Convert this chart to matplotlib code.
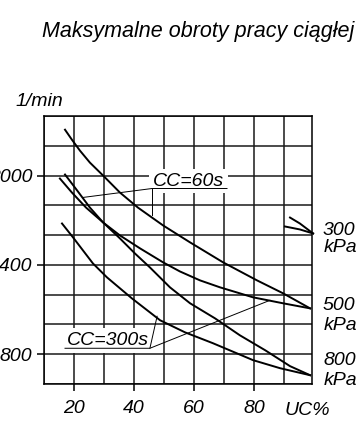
import matplotlib.pyplot as plt
from matplotlib.ticker import MultipleLocator

plt.rcParams['font.family'] = ['Liberation Sans', 'DejaVu Sans']
plt.rcParams['font.style'] = 'italic'

# UC% (x) vs max speed 1/min (y)
uc_500_60 = [17, 19.3, 22, 25.3, 29.7, 35.3, 41.3, 49.7, 58.7, 69.7, 81, 89.7, 98.7]
n_500_60 = [2308, 2241, 2167, 2087, 2000, 1886, 1785, 1665, 1551, 1417, 1296, 1209, 1108]

uc_500_300 = [15.3, 19.3, 24, 29.7, 35.3, 42, 49.7, 55.3, 62, 68.7, 79.7, 89.7, 98.7]
n_500_300 = [1980, 1886, 1785, 1685, 1598, 1511, 1417, 1356, 1296, 1249, 1182, 1142, 1108]

uc_800_60 = [17, 21.3, 25.3, 29.7, 35.3, 40.3, 45.3, 52, 58.7, 67, 75.3, 83.7, 92, 98.7]
n_800_60 = [2007, 1893, 1785, 1685, 1578, 1477, 1383, 1249, 1142, 1041, 927, 827, 720, 659]

uc_800_300 = [16, 19.7, 26.3, 31, 39.3, 48.7, 57, 66.3, 79.7, 88.7, 98.7]
n_800_300 = [1678, 1584, 1410, 1316, 1175, 1028, 947, 874, 760, 706, 659]

uc_300_60 = [92, 95.3, 99.7]
n_300_60 = [1718, 1678, 1611]
uc_300_300 = [90.3, 95.3, 99.7]
n_300_300 = [1658, 1638, 1611]

x_ticks = [20, 40, 60, 80]
y_ticks = [800, 1400, 2000]

fs = 14
fig = plt.figure(figsize=(3.59, 4.21), dpi=100)
ax = fig.add_axes([44 / 359, 37 / 421, 268 / 359, 268 / 421])

for xs, ys in [(uc_500_60, n_500_60), (uc_500_300, n_500_300),
               (uc_800_60, n_800_60), (uc_800_300, n_800_300)]:
    ax.plot(xs, ys, color='black', lw=1.4, solid_joinstyle='round', zorder=5)
for xs, ys in [(uc_300_60, n_300_60), (uc_300_300, n_300_300)]:
    ax.plot(xs, ys, color='black', lw=1.4, clip_on=False, zorder=5)

ax.set_xlim(10, 99.33)
ax.set_ylim(600, 2400)
ax.set_xticks(x_ticks)
ax.set_yticks(y_ticks)
ax.xaxis.set_minor_locator(MultipleLocator(10))
ax.yaxis.set_minor_locator(MultipleLocator(200))
ax.grid(which='both', color='#1a1a1a', lw=1.1)
ax.tick_params(which='minor', length=0)
ax.tick_params(which='major', direction='out', length=5, width=1.1,
               labelsize=fs, pad=3.5)
ax.tick_params(axis='x', pad=6.5)
for s in ax.spines.values():
    s.set_linewidth(1.1)

# CC labels with leader lines
box = dict(boxstyle='square,pad=0.2', fc='white', ec='none')
ax.text(46.3, 1933, 'CC=60s', fontsize=fs, bbox=box, zorder=3)
ax.plot([23, 46, 71], [1853, 1913, 1913], color='black', lw=0.7, zorder=4)
ax.plot([46, 46], [1913, 1732], color='black', lw=0.7, zorder=4)

ax.text(17.6, 860, 'CC=300s', fontsize=fs, bbox=box, zorder=3)
ax.plot([17, 45.3, 47.7], [840, 840, 1055], color='black', lw=0.7, zorder=4)
ax.plot([45.3, 85.3], [840, 1162], color='black', lw=0.7, zorder=4)

# pressure labels
for p, yb, yk in [('300', 1598, 1484), ('500', 1095, 961), ('800', 726, 592)]:
    ax.text(103, yb, p, fontsize=fs, va='baseline', clip_on=False)
    ax.text(103.3, yk, 'kPa', fontsize=fs, va='baseline', clip_on=False)

fig.text(42 / 359, 1 - 37 / 421, 'Maksymalne obroty pracy ciągłej', fontsize=15.5, va='baseline')
fig.text(15 / 359, 1 - 106 / 421, '1/min', fontsize=fs, va='baseline')
fig.text(285 / 359, 6 / 421, 'UC%', fontsize=fs, va='baseline')

fig.savefig('out.png', dpi=100)
